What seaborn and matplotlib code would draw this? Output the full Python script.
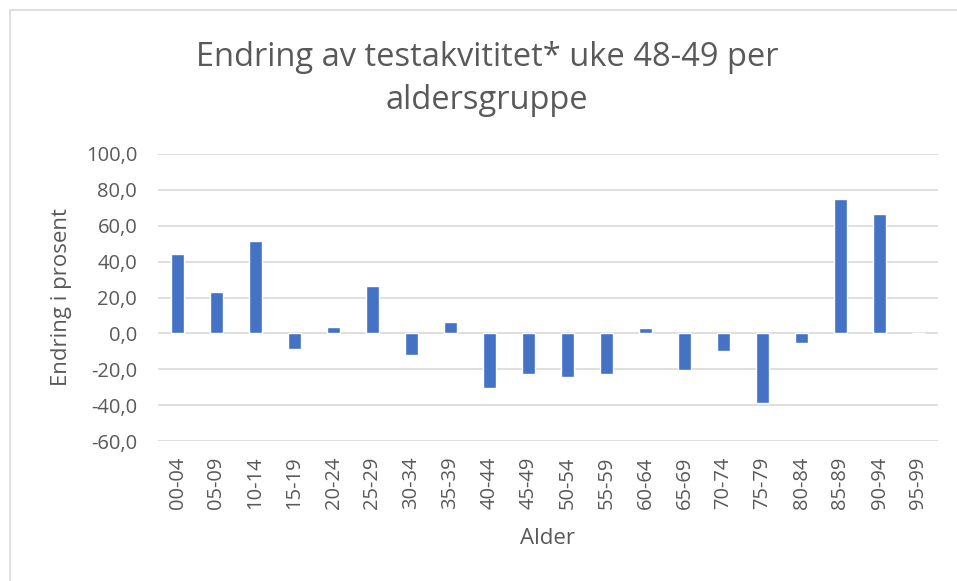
import matplotlib.pyplot as plt
import pandas as pd
import seaborn as sns
from matplotlib.patches import Rectangle

aldersgrupper = [
    "00-04", "05-09", "10-14", "15-19", "20-24", "25-29", "30-34",
    "35-39", "40-44", "45-49", "50-54", "55-59", "60-64", "65-69",
    "70-74", "75-79", "80-84", "85-89", "90-94", "95-99",
]
endring = [
    44.0, 23.1, 51.3, -8.8, 3.4, 26.3, -12.3,
    6.5, -30.2, -22.9, -24.4, -22.6, 3.0, -20.3,
    -9.9, -39.0, -5.4, 74.8, 66.6, 0.0,
]
y_ticks = [-60, -40, -20, 0, 20, 40, 60, 80, 100]

df = pd.DataFrame({"Alder": aldersgrupper, "Endring": endring})

sns.set_style("white")
plt.rcParams["font.family"] = ["Open Sans", "DejaVu Sans"]

text_color = "#595959"
grid_color = "#D9D9D9"

fig = plt.figure(figsize=(9.57, 5.81), dpi=100)
ax = fig.add_axes([158 / 957, 1 - 441 / 581, 780 / 957, 287 / 581])

sns.barplot(data=df, x="Alder", y="Endring", color="#4472C4", width=0.33,
            saturation=1, ax=ax, zorder=3)

ax.set_ylim(-60, 100)
ax.set_xlim(-0.5, len(aldersgrupper) - 0.5)
ax.set_yticks(y_ticks)
ax.set_yticklabels([f"{v:.1f}".replace(".", ",") for v in y_ticks])
ax.yaxis.grid(True, color=grid_color, linewidth=1.2, zorder=0)
ax.set_axisbelow(True)
for s in ax.spines.values():
    s.set_visible(False)
ax.tick_params(axis="both", length=0, colors=text_color, labelsize=14.5)
ax.tick_params(axis="x", rotation=90, pad=11)
ax.tick_params(axis="y", pad=15)

ax.set_xlabel("Alder", fontsize=16, color=text_color, labelpad=14)
ax.set_ylabel("Endring i prosent", fontsize=16, color=text_color, labelpad=10)

fig.text(487 / 957, 1 - 79 / 581,
         "Endring av testakvititet* uke 48-49 per\naldersgruppe",
         ha="center", va="center", fontsize=23.5, color=text_color,
         linespacing=1.4)

# chart frame like the original Excel chart area
fig.patches.append(Rectangle((10 / 957, -0.05), 1.1, 1 - 10 / 581 + 0.05,
                             transform=fig.transFigure, fill=False,
                             edgecolor=grid_color, linewidth=1.2))

fig.savefig("out.png", dpi=100)
